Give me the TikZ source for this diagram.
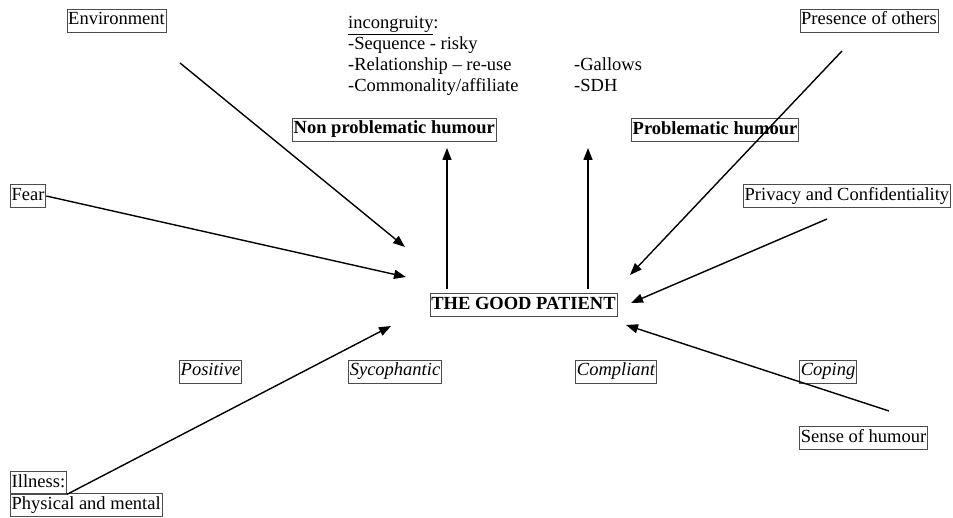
\documentclass[tikz,border=0pt]{standalone}
\usepackage{fontspec}
\setmainfont{Liberation Serif}
\usepackage{tikz}
\usetikzlibrary{arrows.meta, positioning}

\begin{document}
\begin{tikzpicture}[x=1pt, y=-1pt,
  font=\fontsize{18.5}{21}\selectfont,
  box/.style={draw=black!70, line width=0.8pt, inner xsep=1.3pt, inner ysep=2.5pt, text height=13.5pt, text depth=4.5pt},
  plain/.style={inner sep=0pt, anchor=base west},
  link/.style={line width=1.4pt, -{Triangle[length=12pt, width=9pt]}}]
\useasboundingbox (0,0) rectangle (953,518);
% factor boxes
\node[box] (env) at (116.5,20.5) {Environment};
\node[box] (presence) at (869,20.5) {Presence of others};
\node[box, anchor=west] (fear) at (10,196) {Fear};
\node[box, anchor=west] (privacy) at (743,196) {Privacy and Confidentiality};
\node[box] (sense) at (863.5,437.5) {Sense of humour};
\node[box, anchor=west] (illness) at (10,482.5) {Illness:};
\node[box, anchor=west] (physical) at (10,504.5) {Physical and mental};
% humour types
\node[plain] (incong) at (348,29) {\underline{incongruity}:};
\node[plain] (seq) at (348,50) {-Sequence - risky};
\node[plain] (rel) at (348,71) {-Relationship -- re-use};
\node[plain] (comm) at (348,92) {-Commonality/affiliate};
\node[plain] (gallows) at (574,71) {-Gallows};
\node[plain] (sdh) at (574,92) {-SDH};
\node[box, anchor=west, font=\fontsize{18.5}{21}\selectfont\bfseries] (nonprob) at (292,129.5) {Non problematic humour};
\node[box, anchor=west, font=\fontsize{18.5}{21}\selectfont\bfseries] (prob) at (631,130) {Problematic humour};
% centre
\node[box, font=\fontsize{18.5}{21}\selectfont\bfseries] (patient) at (523.5,305) {THE GOOD PATIENT};
\node[box, font=\fontsize{18.5}{21}\selectfont\itshape] (positive) at (210.5,371.5) {Positive};
\node[box, font=\fontsize{18.5}{21}\selectfont\itshape] (syco) at (395,371.5) {Sycophantic};
\node[box, font=\fontsize{18.5}{21}\selectfont\itshape] (compliant) at (616,371.5) {Compliant};
\node[box, font=\fontsize{18.5}{21}\selectfont\itshape] (coping) at (828,371.5) {Coping};
% arrow ends
\coordinate (envS) at (180,63);
\coordinate (envE) at (405,247);
\coordinate (fearE) at (406,277);
\coordinate (illE) at (391,326);
\coordinate (presS) at (842,51);
\coordinate (presE) at (630,275);
\coordinate (privS) at (827,219);
\coordinate (privE) at (631,303);
\coordinate (senseS) at (889,411);
\coordinate (senseE) at (626,325);
\coordinate (upL) at (447,289);
\coordinate (topL) at (447,148);
\coordinate (upR) at (588,289);
\coordinate (topR) at (588,148);
\draw[link] (envS) -- (envE);
\draw[link] (fear.east) -- (fearE);
\draw[link] (illness.south east) -- (illE);
\draw[link] (presS) -- (presE);
\draw[link] (privS) -- (privE);
\draw[link] (senseS) -- (senseE);
\draw[link] (upL) -- (topL);
\draw[link] (upR) -- (topR);
\end{tikzpicture}
\end{document}
